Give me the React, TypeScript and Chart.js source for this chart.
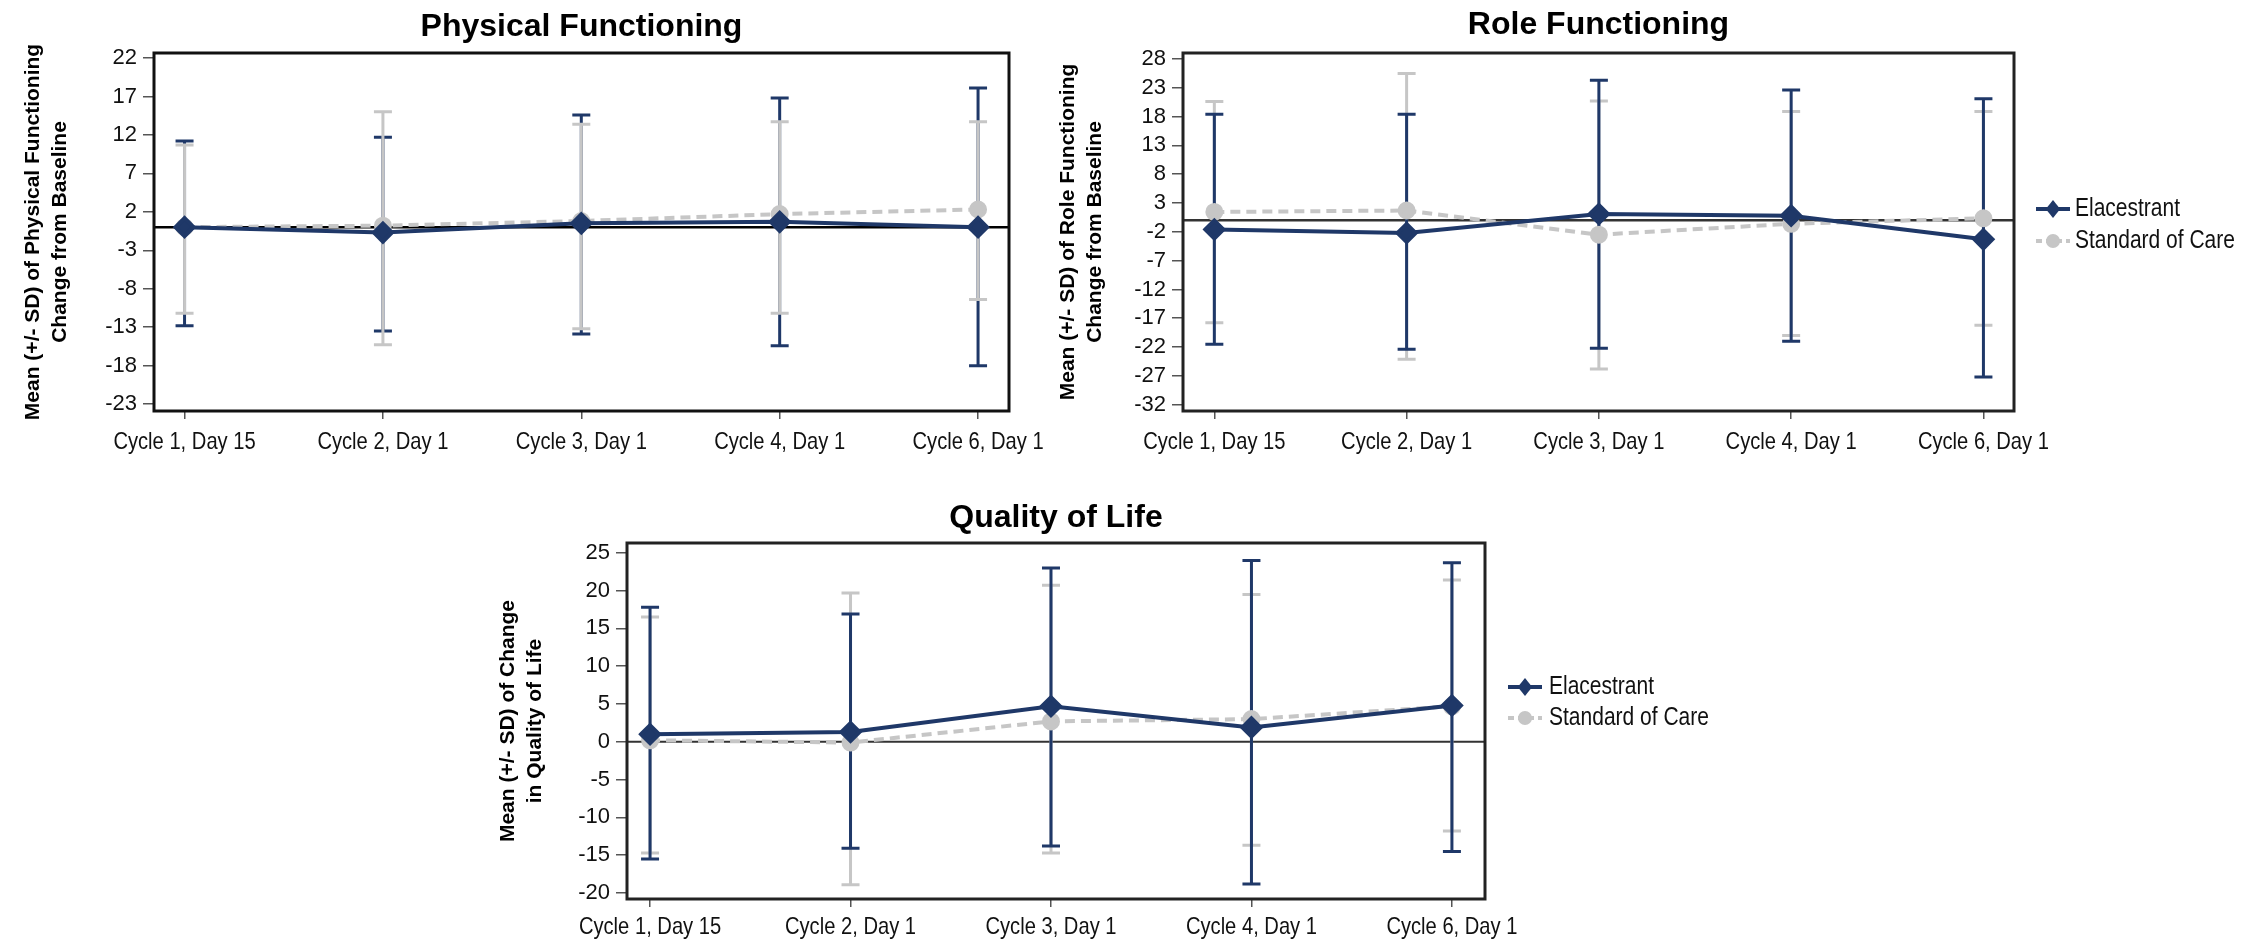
import React, { useEffect, useRef } from "react";
import { Chart, registerables } from "chart.js";

Chart.register(...registerables);

// ---------------- DATA ----------------
const CATEGORIES = ["Cycle 1, Day 15", "Cycle 2, Day 1", "Cycle 3, Day 1", "Cycle 4, Day 1", "Cycle 6, Day 1"];
const SERIES_NAMES = ["Elacestrant", "Standard of Care"];

// Physical Functioning
const PF_TICKS = [22, 17, 12, 7, 2, -3, -8, -13, -18, -23];
const PF_ELA_MEAN = [0.0, -0.7, 0.5, 0.7, 0.0];
const PF_ELA_UPPER = [11.2, 11.7, 14.6, 16.8, 18.1];
const PF_ELA_LOWER = [-12.8, -13.5, -13.9, -15.4, -18.0];
const PF_SOC_MEAN = [0.0, 0.2, 0.8, 1.7, 2.3];
const PF_SOC_UPPER = [10.7, 15.0, 13.4, 13.7, 13.7];
const PF_SOC_LOWER = [-11.2, -15.3, -13.2, -11.2, -9.4];

// Role Functioning
const RF_TICKS = [28, 23, 18, 13, 8, 3, -2, -7, -12, -17, -22, -27, -32];
const RF_ELA_MEAN = [-1.6, -2.2, 1.1, 0.8, -3.3];
const RF_ELA_UPPER = [18.4, 18.4, 24.3, 22.6, 21.1];
const RF_ELA_LOWER = [-21.5, -22.4, -22.2, -21.0, -27.2];
const RF_SOC_MEAN = [1.45, 1.7, -2.5, -0.6, 0.35];
const RF_SOC_UPPER = [20.6, 25.5, 20.7, 18.9, 18.9];
const RF_SOC_LOWER = [-17.8, -24.1, -25.8, -20.0, -18.2];

// Quality of Life
const QL_TICKS = [25, 20, 15, 10, 5, 0, -5, -10, -15, -20];
const QL_ELA_MEAN = [1.0, 1.3, 4.7, 1.9, 4.8];
const QL_ELA_UPPER = [17.8, 16.9, 23.0, 24.0, 23.7];
const QL_ELA_LOWER = [-15.5, -14.1, -13.8, -18.8, -14.5];
const QL_SOC_MEAN = [0.2, -0.1, 2.7, 3.0, 4.7];
const QL_SOC_UPPER = [16.5, 19.7, 20.7, 19.5, 21.4];
const QL_SOC_LOWER = [-14.7, -18.9, -14.7, -13.7, -11.8];

// ---------------- STYLE ----------------
const NAVY = "#1f3868";
const GRAY = "#c6c6c6";
const SANS = '"Liberation Sans", Arial, sans-serif';
const CONDENSE = 0.84;

const errorBarPlugin = {
  id: "errorBars",
  beforeDatasetsDraw(chart: any, _args: any, opts: any) {
    const { ctx, chartArea, scales } = chart;
    const xs = scales.x;
    const ys = scales.y;
    ctx.save();
    const y0 = ys.getPixelForValue(0);
    ctx.beginPath();
    ctx.strokeStyle = opts.zeroColor;
    ctx.lineWidth = opts.zeroWidth;
    ctx.moveTo(chartArea.left, y0);
    ctx.lineTo(chartArea.right, y0);
    ctx.stroke();
    (opts.order as number[]).forEach((i) => {
      const ds = chart.data.datasets[i];
      ctx.strokeStyle = ds.borderColor;
      ctx.lineWidth = 3;
      ds.data.forEach((pt: any, j: number) => {
        const px = xs.getPixelForValue(pt.x);
        const pu = ys.getPixelForValue(ds.errUpper[j]);
        const pl = ys.getPixelForValue(ds.errLower[j]);
        ctx.beginPath();
        ctx.moveTo(px, pu);
        ctx.lineTo(px, pl);
        ctx.moveTo(px - 9, pu);
        ctx.lineTo(px + 9, pu);
        ctx.moveTo(px - 9, pl);
        ctx.lineTo(px + 9, pl);
        ctx.stroke();
      });
    });
    ctx.restore();
  },
  afterDraw(chart: any, _args: any, opts: any) {
    const { ctx, chartArea, scales } = chart;
    ctx.save();
    ctx.strokeStyle = opts.frameColor;
    ctx.lineWidth = 3;
    ctx.strokeRect(chartArea.left, chartArea.top, chartArea.right - chartArea.left, chartArea.bottom - chartArea.top);
    // condensed category labels under the x axis, placed by the x scale
    const xs = scales.x;
    ctx.fillStyle = "#111";
    ctx.font = `24px ${SANS}`;
    ctx.textAlign = "center";
    ctx.textBaseline = "middle";
    xs.ticks.forEach((t: any) => {
      const label = CATEGORIES[Math.round(t.value)];
      if (label === undefined) return;
      const px = xs.getPixelForValue(t.value);
      ctx.save();
      ctx.translate(px, chartArea.bottom + opts.labelOffset);
      ctx.scale(CONDENSE, 1);
      ctx.fillText(label, 0, 0);
      ctx.restore();
    });
    ctx.restore();
  },
};

const legendPlugin = {
  id: "sideLegend",
  afterDraw(chart: any, _args: any, opts: any) {
    if (!opts || !opts.show) return;
    const { ctx } = chart;
    ctx.save();
    chart.data.datasets.forEach((ds: any, i: number) => {
      const y = opts.y + i * opts.dy;
      const x0 = opts.x;
      ctx.beginPath();
      ctx.strokeStyle = ds.borderColor;
      ctx.lineWidth = 4;
      ctx.setLineDash(ds.borderDash ? [6, 4] : []);
      ctx.moveTo(x0, y);
      ctx.lineTo(x0 + 34, y);
      ctx.stroke();
      ctx.setLineDash([]);
      ctx.fillStyle = ds.borderColor;
      const cx = x0 + 17;
      ctx.beginPath();
      if (ds.pointStyle === "rectRot") {
        const r = 9;
        ctx.moveTo(cx, y - r);
        ctx.lineTo(cx + r * 0.8, y);
        ctx.lineTo(cx, y + r);
        ctx.lineTo(cx - r * 0.8, y);
        ctx.closePath();
      } else {
        ctx.arc(cx, y, 7, 0, Math.PI * 2);
      }
      ctx.fill();
      ctx.fillStyle = "#111";
      ctx.font = `25px ${SANS}`;
      ctx.textBaseline = "middle";
      ctx.textAlign = "left";
      ctx.save();
      ctx.translate(x0 + opts.textGap, y);
      ctx.scale(CONDENSE, 1);
      ctx.fillText(ds.label, 0, 0);
      ctx.restore();
    });
    ctx.restore();
  },
};

type PanelProps = {
  left: number; top: number; width: number; height: number;
  title: string; yTitle: string[];
  yTicks: number[]; yMin: number; yMax: number; xMin: number; xMax: number;
  ela: number[]; elaU: number[]; elaL: number[];
  soc: number[]; socU: number[]; socL: number[];
  yAxisWidth: number; xAxisHeight: number; padRight: number;
  titlePadTop: number; titlePadBottom: number; yTitlePad: number; labelOffset: number;
  barOrder: number[]; zeroColor: string; zeroWidth: number; frameColor: string;
  legend?: { x: number; y: number; dy: number; textGap: number };
};

function Panel(p: PanelProps) {
  const ref = useRef<HTMLCanvasElement | null>(null);
  useEffect(() => {
    if (!ref.current) return;
    const chart = new Chart(ref.current, {
      type: "line",
      data: {
        datasets: [
          {
            label: SERIES_NAMES[0],
            data: p.ela.map((v, i) => ({ x: i, y: v })),
            errUpper: p.elaU,
            errLower: p.elaL,
            borderColor: NAVY,
            backgroundColor: NAVY,
            borderWidth: 4,
            pointStyle: "rectRot",
            pointRadius: 9,
            pointBackgroundColor: NAVY,
            pointBorderColor: NAVY,
            tension: 0,
          } as any,
          {
            label: SERIES_NAMES[1],
            data: p.soc.map((v, i) => ({ x: i, y: v })),
            errUpper: p.socU,
            errLower: p.socL,
            borderColor: GRAY,
            backgroundColor: GRAY,
            borderWidth: 4,
            borderDash: [10, 6],
            pointStyle: "circle",
            pointRadius: 7,
            pointBackgroundColor: GRAY,
            pointBorderColor: GRAY,
            tension: 0,
          } as any,
        ],
      },
      options: {
        animation: false,
        responsive: false,
        devicePixelRatio: 1,
        layout: { padding: { left: 0, top: 0, right: p.padRight, bottom: 0 } },
        plugins: {
          legend: { display: false },
          tooltip: { enabled: false },
          title: {
            display: true,
            text: p.title,
            color: "#000",
            fullSize: false,
            font: { family: SANS, size: 32, weight: "bold" },
            padding: { top: p.titlePadTop, bottom: p.titlePadBottom },
          },
          errorBars: {
            order: p.barOrder, zeroColor: p.zeroColor, zeroWidth: p.zeroWidth,
            frameColor: p.frameColor, labelOffset: p.labelOffset,
          },
          sideLegend: p.legend ? { show: true, ...p.legend } : { show: false },
        } as any,
        scales: {
          x: {
            type: "linear",
            min: p.xMin,
            max: p.xMax,
            afterBuildTicks: (s: any) => {
              s.ticks = CATEGORIES.map((_, i) => ({ value: i }));
            },
            afterFit: (s: any) => {
              s.height = p.xAxisHeight;
            },
            ticks: { display: false, autoSkip: false },
            grid: { drawOnChartArea: false, drawTicks: true, tickLength: 8, color: "#555", lineWidth: 1.5 },
            border: { display: false },
          },
          y: {
            type: "linear",
            min: p.yMin,
            max: p.yMax,
            afterBuildTicks: (s: any) => {
              s.ticks = p.yTicks.map((v) => ({ value: v }));
            },
            afterFit: (s: any) => {
              s.width = p.yAxisWidth;
            },
            ticks: {
              callback: (v: any) => String(v),
              padding: 6,
              color: "#111",
              font: { family: SANS, size: 22 },
            },
            grid: { drawOnChartArea: false, drawTicks: true, tickLength: 11, color: "#555", lineWidth: 1.5 },
            border: { display: false },
            title: {
              display: true,
              text: p.yTitle,
              color: "#000",
              font: { family: SANS, size: 21, weight: "bold", lineHeight: "27px" },
              padding: { top: p.yTitlePad, bottom: 0 },
            },
          },
        },
      } as any,
      plugins: [errorBarPlugin, legendPlugin] as any,
    });
    return () => chart.destroy();
  }, []);
  return (
    <canvas
      ref={ref}
      width={p.width}
      height={p.height}
      style={{ position: "absolute", left: p.left, top: p.top, width: p.width, height: p.height }}
    />
  );
}

export default function App() {
  return (
    <div style={{ position: "absolute", left: 0, top: 0, width: 2262, height: 943, background: "#fff", overflow: "hidden" }}>
      <Panel
        left={0} top={0} width={1075} height={480}
        title="Physical Functioning"
        yTitle={["Mean (+/- SD) of Physical Functioning", "Change from Baseline"]}
        yTicks={PF_TICKS} yMin={-23.9} yMax={22.65} xMin={-0.154} xMax={4.156}
        ela={PF_ELA_MEAN} elaU={PF_ELA_UPPER} elaL={PF_ELA_LOWER}
        soc={PF_SOC_MEAN} socU={PF_SOC_UPPER} socL={PF_SOC_LOWER}
        yAxisWidth={154} xAxisHeight={69} padRight={66}
        titlePadTop={7.8} titlePadBottom={6.8} yTitlePad={19.5} labelOffset={31}
        barOrder={[0, 1]} zeroColor="#000" zeroWidth={2.5} frameColor="#111"
      />
      <Panel
        left={1040} top={0} width={1222} height={480}
        title="Role Functioning"
        yTitle={["Mean (+/- SD) of Role Functioning", "Change from Baseline"]}
        yTicks={RF_TICKS} yMin={-33.1} yMax={29.04} xMin={-0.163} xMax={4.159}
        ela={RF_ELA_MEAN} elaU={RF_ELA_UPPER} elaL={RF_ELA_LOWER}
        soc={RF_SOC_MEAN} socU={RF_SOC_UPPER} socL={RF_SOC_LOWER}
        yAxisWidth={143} xAxisHeight={69} padRight={248}
        titlePadTop={5.8} titlePadBottom={8.8} yTitlePad={14.5} labelOffset={31}
        barOrder={[1, 0]} zeroColor="#333" zeroWidth={2.5} frameColor="#222"
        legend={{ x: 996, y: 209, dy: 32, textGap: 39 }}
      />
      <Panel
        left={470} top={480} width={1300} height={463}
        title="Quality of Life"
        yTitle={["Mean (+/- SD) of Change", "in Quality of Life"]}
        yTicks={QL_TICKS} yMin={-20.8} yMax={26.3} xMin={-0.115} xMax={4.165}
        ela={QL_ELA_MEAN} elaU={QL_ELA_UPPER} elaL={QL_ELA_LOWER}
        soc={QL_SOC_MEAN} socU={QL_SOC_UPPER} socL={QL_SOC_LOWER}
        yAxisWidth={157} xAxisHeight={44} padRight={285}
        titlePadTop={18.8} titlePadBottom={5.8} yTitlePad={24.5} labelOffset={28}
        barOrder={[1, 0]} zeroColor="#333" zeroWidth={2} frameColor="#222"
        legend={{ x: 1038, y: 207, dy: 31, textGap: 41 }}
      />
    </div>
  );
}
